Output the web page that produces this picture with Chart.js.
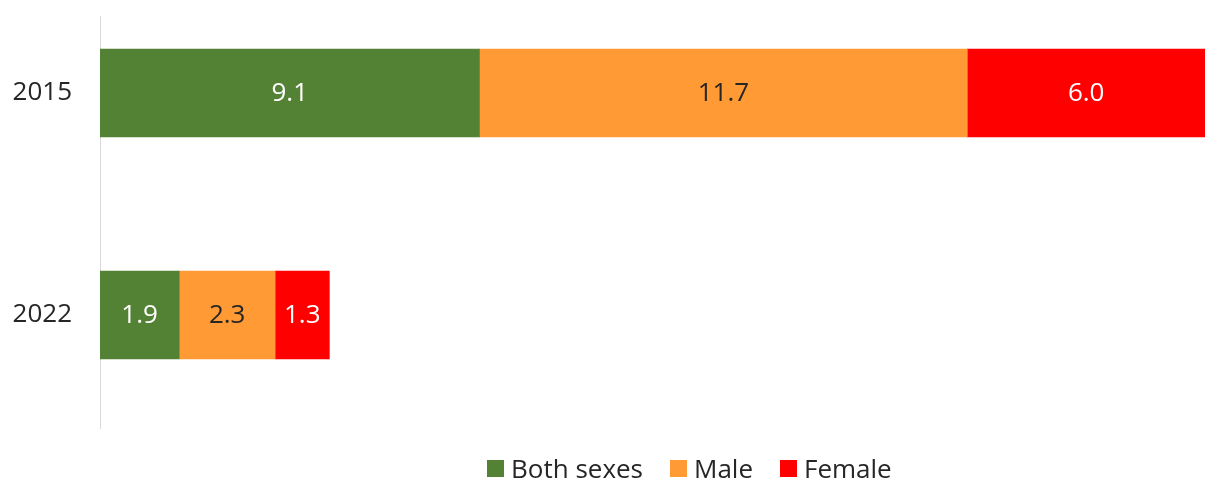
<!DOCTYPE html>
<html>
<head>
<meta charset="utf-8">
<script src="https://cdn.jsdelivr.net/npm/chart.js@4"></script>
<style>
  html, body { margin: 0; padding: 0; background: #fff; }
  #wrap { position: relative; width: 1206px; height: 478px; }
  #legend { position: absolute; left: 487px; top: 450px; display: flex; align-items: center;
    font-family: "Open Sans", sans-serif; font-size: 26px; color: #262626; }
  #legend .item { display: flex; align-items: center; margin-right: 27px; }
  #legend .box { width: 17px; height: 17px; margin-right: 7px; }
</style>
</head>
<body>
<div id="wrap">
  <canvas id="chart" width="1206" height="478"></canvas>
  <div id="legend"></div>
</div>
<script>
// Stacked horizontal bars, 2015 vs 2022
const years = ['2015', '2022'];
const seriesNames = ['Both sexes', 'Male', 'Female'];
const bothSexes = [9.1, 1.9];
const male = [11.7, 2.3];
const female = [6.0, 1.3];
const colors = ['#548235', '#FF9A35', '#FF0000'];
const labelColors = ['#ffffff', '#262626', '#ffffff'];

const FONT = '"Open Sans", sans-serif';
const values = [bothSexes, male, female];

// value labels, centred on the visible part of each segment
const barLabels = {
  id: 'barLabels',
  afterDatasetsDraw(chart) {
    const ctx = chart.ctx;
    const area = chart.chartArea;
    ctx.save();
    ctx.font = '26px ' + FONT;
    ctx.textAlign = 'center';
    ctx.textBaseline = 'middle';
    chart.data.datasets.forEach((ds, i) => {
      chart.getDatasetMeta(i).data.forEach((bar, j) => {
        const left = Math.max(Math.min(bar.x, bar.base), area.left);
        const right = Math.min(Math.max(bar.x, bar.base), area.right);
        ctx.fillStyle = labelColors[i];
        ctx.fillText(values[i][j].toFixed(1), (left + right) / 2, bar.y + 1);
      });
    });
    ctx.restore();
  }
};

const datasets = seriesNames.map((name, i) => ({
  label: name,
  data: values[i].map((v, j) => ({ x: v, y: j })),
  backgroundColor: colors[i],
  borderWidth: 0,
  barThickness: 88,
}));

new Chart(document.getElementById('chart'), {
  type: 'bar',
  data: { datasets },
  options: {
    indexAxis: 'y',
    responsive: false,
    animation: false,
    layout: { padding: { top: 16, bottom: 50, right: 1, left: 0 } },
    plugins: { legend: { display: false }, tooltip: { enabled: false } },
    scales: {
      x: { stacked: true, display: false, min: 0, max: 26.5 },
      y: {
        type: 'linear',
        stacked: true,
        reverse: true,
        offset: false,
        min: -0.347,
        max: 1.509,
        afterBuildTicks: s => { s.ticks = years.map((_, i) => ({ value: i })); },
        afterFit: s => { s.width = 100; s.paddingTop = 0; s.paddingBottom = 0; },
        grid: { display: false, drawTicks: false },
        border: { display: true, color: '#d9d9d9', width: 1 },
        ticks: {
          padding: 28,
          color: '#262626',
          font: { family: FONT, size: 26 },
          callback: v => years[v],
        },
      },
    },
  },
  plugins: [barLabels],
});

const legendEl = document.getElementById('legend');
seriesNames.forEach((name, i) => {
  legendEl.innerHTML += `<div class="item"><span class="box" style="background:${colors[i]}"></span>${name}</div>`;
});
</script>
</body>
</html>
